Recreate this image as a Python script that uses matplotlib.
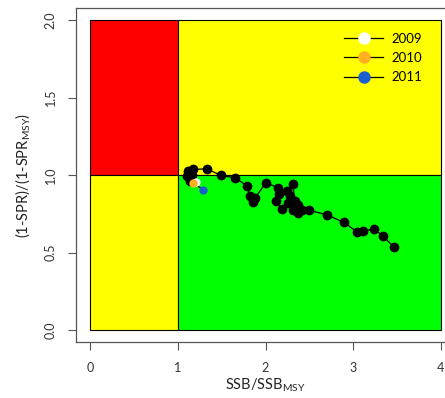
import matplotlib
matplotlib.use("Agg")
import matplotlib.pyplot as plt
from matplotlib.lines import Line2D

plt.rcParams['font.family'] = ['Lato', 'DejaVu Sans']
plt.rcParams['mathtext.fontset'] = 'custom'
plt.rcParams['mathtext.rm'] = 'Lato'

# time series (early -> late), SSB/SSBmsy and (1-SPR)/(1-SPRmsy)
ssb_ratio = [3.464, 3.342, 3.236, 3.115, 3.046, 2.895, 2.697, 2.499, 2.413, 2.374,
             2.317, 2.374, 2.336, 2.310, 2.242, 2.279, 2.260, 2.185, 2.120, 2.157,
             2.146, 2.006, 1.880, 1.854, 1.823, 1.786, 1.652, 1.493, 1.330, 1.177,
             1.120, 1.102, 1.159, 1.140, 1.205, 1.177, 1.284]
spr_ratio = [0.535, 0.604, 0.654, 0.636, 0.632, 0.694, 0.744, 0.772, 0.777, 0.755,
             0.777, 0.809, 0.830, 0.939, 0.895, 0.867, 0.820, 0.781, 0.830, 0.880,
             0.917, 0.950, 0.852, 0.824, 0.867, 0.932, 0.982, 0.997, 1.040, 1.036,
             1.025, 0.992, 1.003, 0.960, 0.953, 0.950, 0.906]
highlight_years = ['2009', '2010', '2011']
highlight_colors = ['white', '#FFB020', '#1A5FD0']

fig = plt.figure(figsize=(4.45, 3.98), dpi=100)
ax = fig.add_axes([76/445, 55.6/398, 379/445, 334.8/398])
ax.set_xlim(-0.16, 4.16)
ax.set_ylim(-0.08, 2.08)

# quadrants
ax.add_patch(plt.Rectangle((0, 1), 1, 1, facecolor='#FF0000', edgecolor='black', lw=0.8, zorder=1))
ax.add_patch(plt.Rectangle((1, 1), 3, 1, facecolor='#FFFF00', edgecolor='black', lw=0.8, zorder=1))
ax.add_patch(plt.Rectangle((0, 0), 1, 1, facecolor='#FFFF00', edgecolor='black', lw=0.8, zorder=1))
ax.add_patch(plt.Rectangle((1, 0), 3, 1, facecolor='#00FF00', edgecolor='black', lw=0.8, zorder=1))

n_hl = len(highlight_years)
ax.plot(ssb_ratio, spr_ratio, color='black', lw=0.9, zorder=2)
ax.plot(ssb_ratio[:-n_hl], spr_ratio[:-n_hl], 'o', color='black', ms=6, zorder=3)
for i, c in enumerate(highlight_colors):
    ax.plot(ssb_ratio[-n_hl + i], spr_ratio[-n_hl + i], 'o', color=c, ms=6,
            markeredgewidth=0, zorder=4 + i)

handles = [Line2D([0], [0], color='black', lw=0.9, marker='o', markersize=9,
                  markerfacecolor=c, markeredgewidth=0) for c in highlight_colors]
ax.legend(handles, highlight_years, loc='upper right', bbox_to_anchor=(3.86, 1.96),
          bbox_transform=ax.transData, frameon=False, fontsize=9.5,
          handlelength=3.0, handletextpad=0.6, labelspacing=0.55, borderpad=0.0)

ax.set_xticks([0, 1, 2, 3, 4])
ax.set_yticks([0.0, 0.5, 1.0, 1.5, 2.0])
ax.set_yticklabels(['0.0', '0.5', '1.0', '1.5', '2.0'], rotation=90, va='center')
ax.tick_params(direction='out', length=6, width=0.8, colors='#555555',
               labelcolor='#333333', labelsize=9, pad=8)
for s in ax.spines.values():
    s.set_color('#555555')
    s.set_linewidth(0.9)

ax.set_xlabel(r'SSB/SSB$_{\mathregular{MSY}}$', fontsize=10.5, color='#222222', labelpad=2)
ax.set_ylabel(r'(1-SPR)/(1-SPR$_{\mathregular{MSY}}$)', fontsize=10.5, color='#222222', labelpad=8)

fig.savefig('out.png', dpi=100)
